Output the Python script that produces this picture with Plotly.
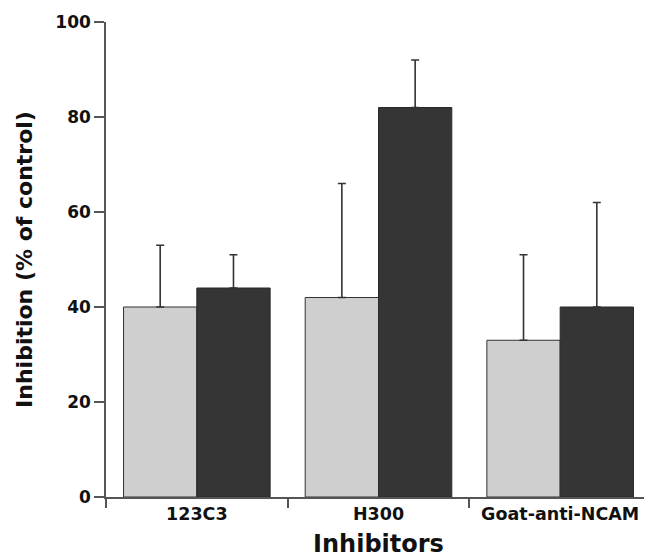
import plotly.graph_objects as go

categories = ["123C3", "H300", "Goat-anti-NCAM"]
light_values = [40, 42, 33]
light_err_upper = [13, 24, 18]
dark_values = [44, 82, 40]
dark_err_upper = [7, 10, 22]
y_ticks = [0, 20, 40, 60, 80, 100]

FONT = "DejaVu Sans"
axis_col = "#555555"

fig = go.Figure()
fig.add_trace(go.Bar(
    x=categories, y=light_values, name="light",
    marker=dict(color="#cfcfcf", line=dict(color="#333333", width=1)),
    error_y=dict(type="data", symmetric=False, array=light_err_upper,
                 arrayminus=[0] * len(light_values),
                 color="#333333", thickness=1.6, width=4),
))
fig.add_trace(go.Bar(
    x=categories, y=dark_values, name="dark",
    marker=dict(color="#353535", line=dict(color="#2a2a2a", width=1)),
    error_y=dict(type="data", symmetric=False, array=dark_err_upper,
                 arrayminus=[0] * len(dark_values),
                 color="#333333", thickness=1.6, width=4),
))

# page body has an 8px margin, so the figure is placed at (8, 8)
fig.update_layout(
    width=644, height=550,
    margin=dict(l=98, r=1, t=14, b=61, autoexpand=False),
    barmode="group", bargap=0.193, bargroupgap=0,
    showlegend=False,
    plot_bgcolor="white", paper_bgcolor="white",
    font=dict(family=FONT, color="#111111"),
)
fig.update_xaxes(
    type="category", automargin=False,
    showline=True, linecolor=axis_col, linewidth=1.5,
    ticks="outside", tickson="boundaries", ticklen=9, tickcolor=axis_col, tickwidth=1.5,
    tickfont=dict(family=FONT, size=17.5, color="#111111", weight="bold"),
    showgrid=False, zeroline=False,
    title=dict(text="<b>Inhibitors</b>", font=dict(family=FONT, size=24, color="#111111"), standoff=14),
)
fig.update_yaxes(
    range=[0, 100], tickvals=y_ticks, automargin=False,
    showline=True, linecolor=axis_col, linewidth=1.5,
    ticks="outside", ticklen=10, tickcolor=axis_col, tickwidth=1.5,
    tickfont=dict(family=FONT, size=17, color="#111111", weight="bold"),
    showgrid=False, zeroline=False,
    title=dict(text="<b>Inhibition (% of control)</b>", font=dict(family=FONT, size=22, color="#111111"), standoff=17),
)

fig.write_html("out.html")
